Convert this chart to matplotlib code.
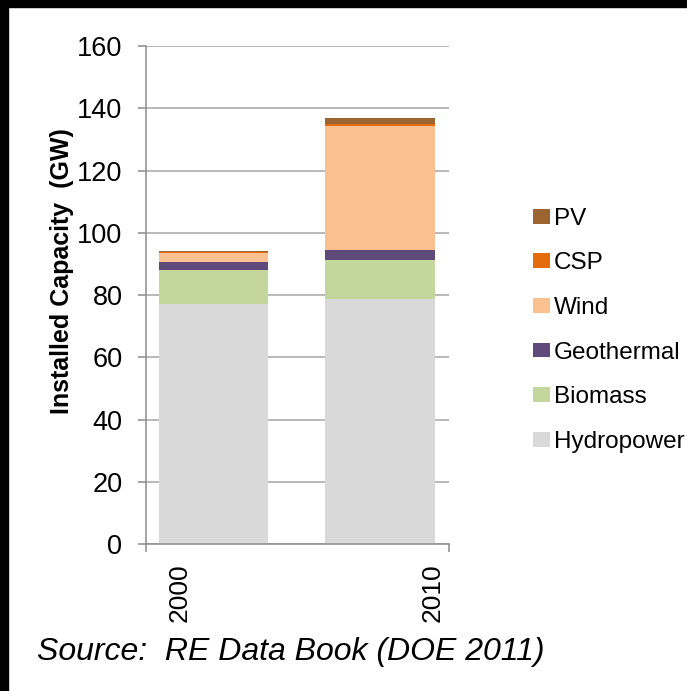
import matplotlib.pyplot as plt
import numpy as np
from matplotlib.patches import Patch, Rectangle

# installed renewable capacity in GW, stacked bottom to top
years = ["2000", "2010"]
sources = ["Hydropower", "Biomass", "Geothermal", "Wind", "CSP", "PV"]
hydropower = [77.2, 78.6]
biomass = [10.9, 12.7]
geothermal = [2.6, 3.2]
wind = [2.8, 39.9]
csp = [0.4, 0.5]
pv = [0.2, 2.1]

colors = ["#d9d9d9", "#c3d69b", "#604a7b", "#fac090", "#e46c0a", "#9c6430"]

plt.rcParams["font.family"] = ["Liberation Sans", "DejaVu Sans"]

fig = plt.figure(figsize=(6.87, 6.91), dpi=100)
ax = fig.add_axes([0.2125, 0.2127, 0.4411, 0.7207])

series = [hydropower, biomass, geothermal, wind, csp, pv]
x = np.arange(len(years))
bottom = np.zeros(len(years))
for name, data, color in zip(sources, series, colors):
    data = np.array(data)
    ax.bar(x, data, width=0.655, bottom=bottom, color=color, label=name, zorder=2)
    bottom += data

ax.set_xlim(-0.405, 1.414)
ax.set_ylim(0, 160)
ax.set_yticks(np.arange(0, 161, 20))
ax.yaxis.grid(True, color="#a6a6a6", linewidth=1.1, zorder=0)
ax.set_axisbelow(True)

for side in ["top", "right"]:
    ax.spines[side].set_visible(False)
for side in ["left", "bottom"]:
    ax.spines[side].set_color("#8c8c8c")
    ax.spines[side].set_linewidth(1.1)

ax.tick_params(axis="y", length=6, width=1.1, color="#8c8c8c", pad=11, labelsize=19.5)
# year labels sit off-centre under the bars, tick marks only at the ends
ax.set_xticks([-0.201, 1.318])
ax.set_xticklabels(years, rotation=90, fontsize=19)
ax.tick_params(axis="x", which="major", length=0, pad=14)
ax.set_xticks([-0.405, 1.414], minor=True)
ax.tick_params(axis="x", which="minor", length=6, width=1.1, color="#8c8c8c")

fig.text(62 / 687, 1 - 271 / 691, "Installed Capacity  (GW)", rotation=90,
         ha="center", va="center", fontsize=18, fontweight="bold")

handles = [Patch(facecolor=c, label=s) for s, c in zip(sources, colors)][::-1]
fig.legend(handles=handles, loc="center left", bbox_to_anchor=(0.758, 0.522),
           frameon=False, fontsize=17.5, handlelength=0.7, handleheight=0.55,
           handletextpad=0.15, labelspacing=0.93, borderpad=0)

fig.text(37 / 687, 1 - 652 / 691, "Source:  RE Data Book (DOE 2011)",
         fontsize=23, style="italic", ha="left", va="center")

# black frame along the top and left edges
fig.patches.append(Rectangle((0, 1 - 7 / 691), 1, 7 / 691, transform=fig.transFigure,
                             color="black", zorder=10))
fig.patches.append(Rectangle((0, 0), 8 / 687, 1, transform=fig.transFigure,
                             color="black", zorder=10))

fig.savefig("out.png", dpi=100)
